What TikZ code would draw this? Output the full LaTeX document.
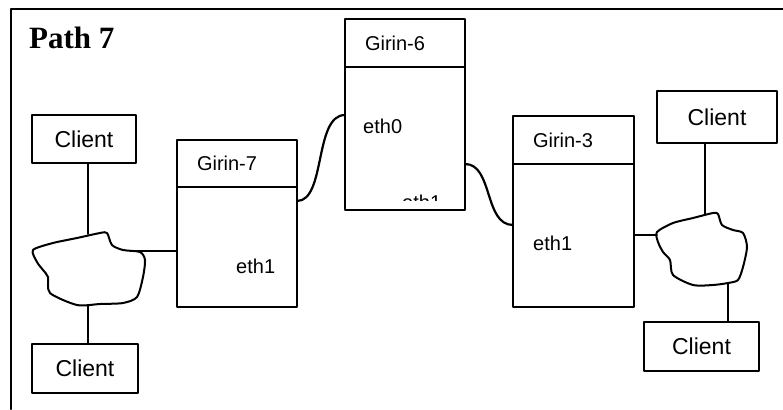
\documentclass[tikz,border=0pt]{standalone}
\usepackage{fontspec}
\setmainfont{Liberation Sans}
\newfontfamily\titlefont{Liberation Serif}
\usetikzlibrary{positioning}

\tikzset{
  client/.style={draw,line width=1.8pt,outer sep=0pt,inner sep=0pt,font=\fontsize{23}{26}\selectfont},
  girhead/.style={draw,line width=1.8pt,outer sep=0pt,inner xsep=20pt,inner ysep=0pt,
    text width=80pt,align=left,minimum height=47pt,font=\fontsize{20}{24}\selectfont},
  girbody/.style={draw,line width=1.8pt,outer sep=0pt,inner sep=0pt,minimum width=120pt},
  port/.style={anchor=base west,inner sep=0pt,font=\fontsize{20}{24}\selectfont},
  link/.style={line width=1.8pt},
  wire/.style={line width=2.2pt},
  cloud/.style={line width=2pt}
}

\begin{document}
\begin{tikzpicture}[line cap=round,line join=round,x=1pt,y=-1pt]
		\useasboundingbox (0,0) rectangle (783,409);
		\draw [line width=2.2pt] (11,409) -- (11,9) -- (783,9);
		\node [anchor=base west,inner sep=0pt,font=\titlefont\bfseries\fontsize{31}{34}\selectfont] (title) at (29,49) {Path 7};
		% routers
		\node [girhead,anchor=north west] (g7head) at (177,140) {Girin-7};
		\node [girbody,minimum height=120pt,below=0pt of g7head] (g7body) {};
		\node [girhead,anchor=north west,minimum height=48pt] (g6head) at (345,19) {Girin-6};
		\node [girbody,minimum height=143pt,below=0pt of g6head] (g6body) {};
		\node [girhead,anchor=north west,minimum height=48pt,text width=81pt] (g3head) at (513,116) {Girin-3};
		\node [girbody,minimum width=121pt,minimum height=143pt,below=0pt of g3head] (g3body) {};
		\node [port] (g7eth1) at (236,273) {eth1};
		\node [port] (g6eth0) at (363,133) {eth0};
		\node [port] (g3eth1) at (533,250) {eth1};
		\begin{scope}
			\clip (345,19) rectangle (465,200);
			\node [port] (g6eth1) at (402,209) {eth1};
		\end{scope}
		% clients
		\node [client,minimum width=104pt,minimum height=48pt] (cltl) at (84,139) {Client};
		\node [client,minimum width=106pt,minimum height=49pt] (clbl) at (85,368.5) {Client};
		\node [client,minimum width=120pt,minimum height=52pt] (cltr) at (717,117) {Client};
		\node [client,minimum width=115pt,minimum height=49pt] (clbr) at (701.5,346.5) {Client};
		% clouds
		\draw [cloud] plot [smooth cycle,tension=0.45] coordinates {(33,250) (53,243) (77,238) (100,233) (107,233) (112,245) (123,250) (140,252) (145,260) (143,277) (137,297) (123,303) (100,304) (77,305) (50,293) (48,277) (43,270) (37,262)};
		\draw [cloud] plot [smooth cycle,tension=0.45] coordinates {(657,232) (673,223) (693,218) (713,213) (718,214) (722,225) (733,230) (743,233) (747,247) (743,267) (738,280) (728,283) (713,285) (693,285) (673,275) (670,260) (663,252) (658,242)};
		\coordinate (cl1n) at (88,234);
		\coordinate (cl1e) at (130,251);
		\coordinate (cl1s) at (88,305);
		\coordinate (cl2w) at (657,235);
		\coordinate (cl2n) at (705,214);
		\coordinate (cl2s) at (728,284);
		\draw [link] (cl1n) -- (cl1n |- cltl.south);
		\draw [link] (cl1s) -- (cl1s |- clbl.north);
		\draw [link] (cl1e) -- (cl1e -| g7body.west);
		\draw [link] (cl2w) -- (cl2w -| g3body.east);
		\draw [link] (cl2n) -- (cl2n |- cltr.south);
		\draw [link] (cl2s) -- (cl2s |- clbr.north);
		% links between routers
		\coordinate (g7out) at (297,201);
		\coordinate (g6in) at (345,115);
		\coordinate (g6out) at (465,164);
		\coordinate (g3in) at (513,225);
		\draw [wire] (g7out) .. controls (326,201) and (314,115) .. (g6in);
		\draw [wire] (g6out) .. controls (493,164) and (484,225) .. (g3in);
	\end{tikzpicture}
\end{document}
